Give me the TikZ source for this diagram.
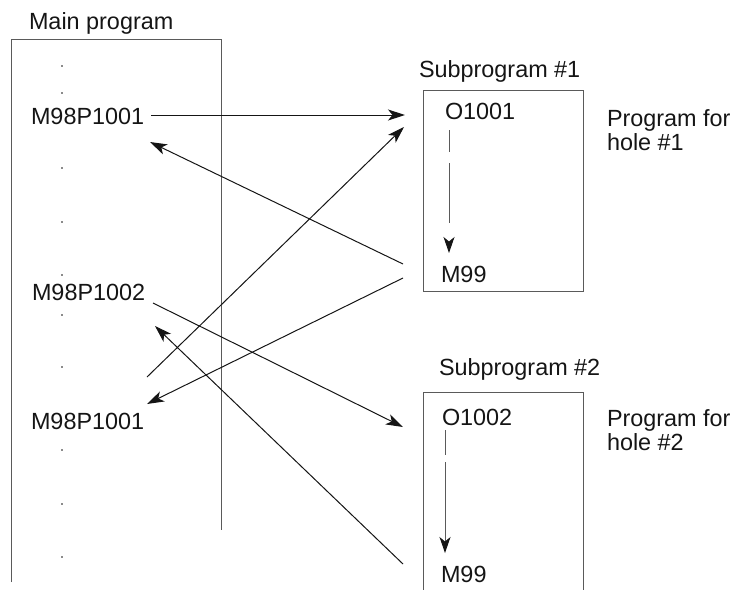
\documentclass[tikz,border=0pt]{standalone}
\usepackage{fontspec}
\setmainfont{Liberation Sans}
\usetikzlibrary{arrows.meta}
\definecolor{boxgray}{HTML}{5A5A5A}
\definecolor{inkc}{HTML}{151515}
\tikzset{
  lbl/.style={anchor=base west,inner sep=0pt,outer sep=0pt,text=inkc,font=\fontsize{23.4}{28}\selectfont},
  frame/.style={draw=boxgray,line width=1pt},
  flow/.style={draw=inkc,line width=1pt,-{Stealth[length=17pt,width=11pt,inset=4.5pt]}},
  inner/.style={draw=boxgray,line width=1pt,-{Stealth[length=16pt,width=11pt,inset=4.5pt,color=inkc]}},
  dotmark/.style={circle,fill=inkc,inner sep=0pt,minimum size=1.6pt}
}
\begin{document}
\begin{tikzpicture}[x=1pt,y=-1pt]
\useasboundingbox (0,0) rectangle (733,589);
% main program frame (open at bottom)
\coordinate (mbl) at (11.5,582);
\coordinate (mtl) at (11.5,39.5);
\coordinate (mtr) at (221.5,39.5);
\coordinate (mbr) at (221.5,530);
\draw[frame] (mbl) -- (mtl) -- (mtr) -- (mbr);
\node[lbl] (mainlbl) at (29,29) {Main program};
% dots
\foreach \yy/\nm in {66/d1,93/d2,168/d3,222/d4,275/d5,315/d6,367/d7,450/d8,504/d9,557/d10}
  \node[dotmark] (\nm) at (62,\yy) {};
\node[lbl] (call1) at (31,124) {M98P1001};
\node[lbl] (call2) at (32,300) {M98P1002};
\node[lbl] (call3) at (31,429) {M98P1001};
% subprogram 1
\coordinate (s1tl) at (423.5,90);
\coordinate (s1br) at (583.5,291);
\draw[frame] (s1tl) rectangle (s1br);
\node[lbl] (sub1lbl) at (419,77) {Subprogram \#1};
\node[lbl] (o1001) at (445,119) {O1001};
\node[lbl] (m99a) at (441,282) {M99};
\node[lbl] (pf1) at (607,126) {Program for};
\node[lbl] (h1) at (607,150) {hole \#1};
\coordinate (da1) at (449,130);
\coordinate (db1) at (449,253);
\draw[inner,dash pattern=on 22pt off 11pt on 60pt off 30pt] (da1) -- (db1);
% subprogram 2
\coordinate (s2bl) at (423.5,600);
\coordinate (s2tl) at (423.5,392);
\coordinate (s2tr) at (583.5,392);
\coordinate (s2br) at (583.5,600);
\draw[frame] (s2bl) -- (s2tl) -- (s2tr) -- (s2br);
\node[lbl] (sub2lbl) at (439,375) {Subprogram \#2};
\node[lbl] (o1002) at (442,425) {O1002};
\node[lbl] (m99b) at (441,582) {M99};
\node[lbl] (pf2) at (607,426) {Program for};
\node[lbl] (h2) at (607,450) {hole \#2};
\coordinate (da2) at (445,430);
\coordinate (db2) at (445,553);
\draw[inner,dash pattern=on 25pt off 7pt on 200pt] (da2) -- (db2);
% connectors
\coordinate (a1s) at (151,115);
\coordinate (a1e) at (405,115);
\coordinate (a2s) at (403,264);
\coordinate (a2e) at (150,142);
\coordinate (a3s) at (147,377);
\coordinate (a3e) at (404,127);
\coordinate (a4s) at (403,278);
\coordinate (a4e) at (147,404);
\coordinate (a5s) at (153,303);
\coordinate (a5e) at (403,427);
\coordinate (a6s) at (403,564);
\coordinate (a6e) at (155,326);
\draw[flow] (a1s) -- (a1e);
\draw[flow] (a2s) -- (a2e);
\draw[flow] (a3s) -- (a3e);
\draw[flow] (a4s) -- (a4e);
\draw[flow] (a5s) -- (a5e);
\draw[flow] (a6s) -- (a6e);
\end{tikzpicture}
\end{document}
